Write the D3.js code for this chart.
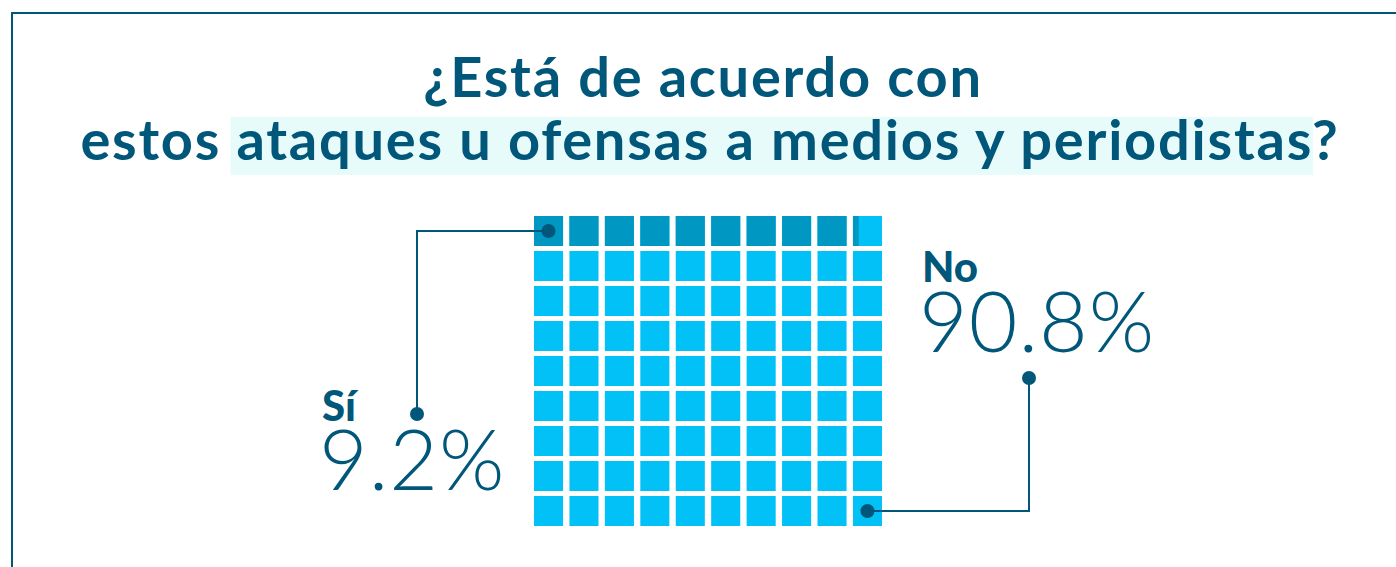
<!DOCTYPE html>
<html lang="es">
<head>
    <meta charset="UTF-8">
    <title>Ataques a medios y periodistas</title>
    <script src="https://cdn.jsdelivr.net/npm/d3@7"></script>
    <style>
        body { margin: 0; background: #fff; }
        text { font-family: Lato, "Open Sans", sans-serif; }
    </style>
</head>
<body>
<div id="chart"></div>
<script>

    // data
    var categories = ["Sí", "No"];
    var values = [9.2, 90.8];
    var valueLabels = ["9.2%", "90.8%"];
    var titleLines = ["¿Está de acuerdo con", "estos ataques u ofensas a medios y periodistas?"];
    var highlightText = "ataques u ofensas a medios y periodistas";

    var width = 1396, height = 567;
    var nCols = 10, nRows = 9;

    var dark = "#00577a",
        cellLight = "#02c1f6",
        cellDark = "#0098c3";

    var svg = d3.select("#chart")
        .append("svg")
        .attr("width", width)
        .attr("height", height);

    // frame
    svg.append("rect")
        .attr("x", 12)
        .attr("y", 13)
        .attr("width", width + 20)
        .attr("height", height + 20)
        .attr("fill", "none")
        .attr("stroke", dark)
        .attr("stroke-width", 2);

    // title
    var hl = svg.append("rect").attr("fill", "#e8fbfb");

    var titleX = [703, 710];
    var title = svg.selectAll(".title")
        .data(titleLines)
        .enter()
        .append("text")
        .attr("class", "title")
        .attr("x", (d, i) => titleX[i])
        .attr("y", (d, i) => 97 + i * 63)
        .attr("text-anchor", "middle")
        .attr("font-size", 56)
        .attr("font-weight", 700)
        .attr("letter-spacing", 1.75)
        .attr("fill", dark)
        .text(d => d);

    // highlight behind the second line
    var line2 = title.nodes()[1];
    var start = titleLines[1].indexOf(highlightText);
    var e0 = line2.getExtentOfChar(start);
    var e1 = line2.getExtentOfChar(start + highlightText.length - 1);
    var hx0 = e0.x - 6, hx1 = e1.x + e1.width + 1;
    hl.attr("x", hx0)
        .attr("y", 117)
        .attr("width", hx1 - hx0)
        .attr("height", 58);

    // waffle
    var x = d3.scaleBand()
        .domain(d3.range(nCols))
        .range([534, 882])
        .paddingInner(0.18);

    var y = d3.scaleBand()
        .domain(d3.range(nRows))
        .range([216, 526])
        .paddingInner(0.143);

    var cells = d3.range(nCols * nRows).map(i => ({
        i: i,
        col: i % nCols,
        row: Math.floor(i / nCols),
        frac: Math.max(0, Math.min(1, values[0] - i))
    }));

    var g = svg.append("g");

    g.selectAll(".cell")
        .data(cells)
        .enter()
        .append("rect")
        .attr("class", "cell")
        .attr("x", d => x(d.col))
        .attr("y", d => y(d.row))
        .attr("width", x.bandwidth())
        .attr("height", y.bandwidth())
        .attr("fill", cellLight);

    g.selectAll(".cell-si")
        .data(cells.filter(d => d.frac > 0))
        .enter()
        .append("rect")
        .attr("class", "cell-si")
        .attr("x", d => x(d.col))
        .attr("y", d => y(d.row))
        .attr("width", d => x.bandwidth() * d.frac)
        .attr("height", y.bandwidth())
        .attr("fill", cellDark);

    // leader lines
    var first = cells[0], last = cells[cells.length - 1];
    var p0 = [x(first.col) + x.bandwidth() / 2, y(first.row) + y.bandwidth() / 2];
    var p1 = [x(last.col) + x.bandwidth() / 2, y(last.row) + y.bandwidth() / 2];

    var leaders = [
        [p0, [417, p0[1]], [417, 414]],
        [p1, [1029, p1[1]], [1029, 378]]
    ];

    svg.selectAll(".leader")
        .data(leaders)
        .enter()
        .append("path")
        .attr("class", "leader")
        .attr("d", d3.line())
        .attr("fill", "none")
        .attr("stroke", dark)
        .attr("stroke-width", 2);

    var dots = [];
    leaders.forEach(l => { dots.push(l[0]); dots.push(l[l.length - 1]); });
    svg.selectAll(".dot")
        .data(dots)
        .enter()
        .append("circle")
        .attr("cx", d => d[0])
        .attr("cy", d => d[1])
        .attr("r", 7)
        .attr("fill", dark);

    // labels
    var labelPos = [{x: 322, y: 421, vy: 490}, {x: 922, y: 282, vy: 352}];

    svg.selectAll(".cat")
        .data(categories)
        .enter()
        .append("text")
        .attr("x", (d, i) => labelPos[i].x)
        .attr("y", (d, i) => labelPos[i].y)
        .attr("font-size", 42)
        .attr("font-weight", 900)
        .attr("fill", dark)
        .text(d => d);

    svg.selectAll(".val")
        .data(valueLabels)
        .enter()
        .append("text")
        .attr("x", (d, i) => labelPos[i].x - 3)
        .attr("y", (d, i) => labelPos[i].vy)
        .attr("font-size", 84)
        .attr("font-weight", 300)
        .attr("letter-spacing", 1)
        .attr("fill", dark)
        .text(d => d);

</script>
</body>
</html>
